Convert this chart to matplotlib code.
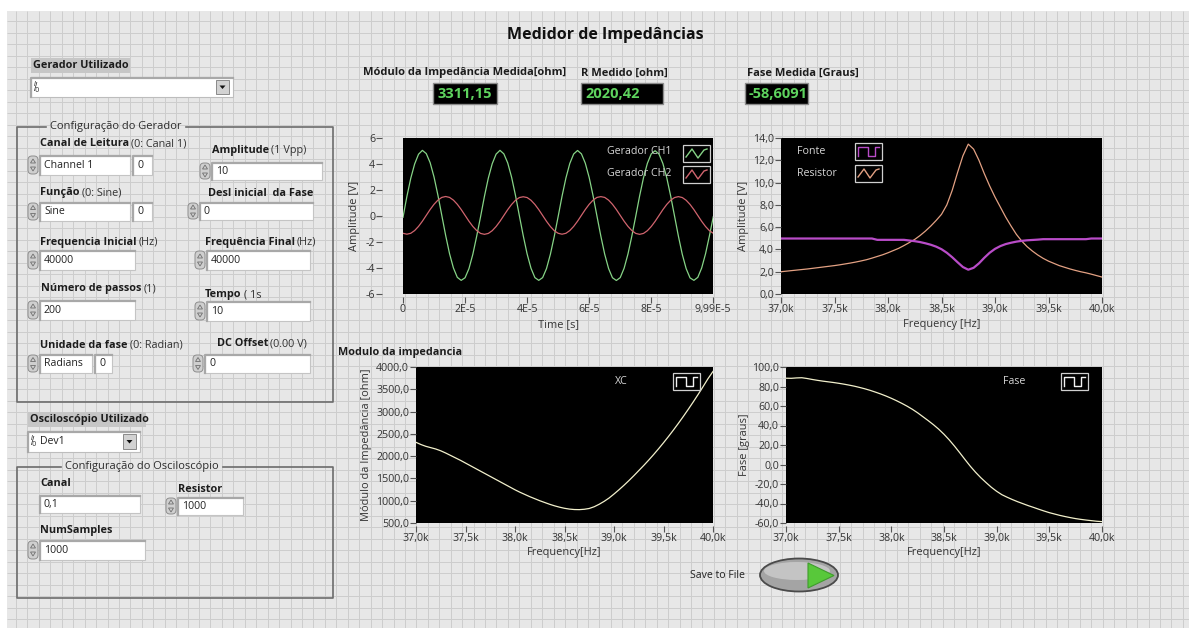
import numpy as np
import matplotlib.pyplot as plt
from matplotlib.patches import Rectangle, FancyBboxPatch, Ellipse, Polygon
from matplotlib.ticker import FuncFormatter

plt.rcParams['font.family'] = ['Open Sans', 'DejaVu Sans']

W, H = 1189, 628

# osciloscopio: 20 amostras por periodo de 40 kHz
dt = 1.25e-6
ch1 = [-0.10, 1.50, 2.90, 4.00, 4.75, 5.05, 4.80, 4.10, 3.00, 1.60,
       0.05, -1.50, -2.90, -4.00, -4.72, -4.95, -4.75, -4.05, -2.95, -1.55,
       -0.05, 1.52, 2.92, 4.02, 4.76, 5.05, 4.78, 4.08, 2.98, 1.58,
       0.02, -1.52, -2.92, -4.02, -4.74, -4.95, -4.74, -4.04, -2.94, -1.56,
       -0.04, 1.52, 2.92, 4.04, 4.77, 5.04, 4.78, 4.06, 2.96, 1.56,
       0.00, -1.54, -2.94, -4.04, -4.75, -4.96, -4.74, -4.02, -2.92, -1.54,
       -0.02, 1.54, 2.94, 4.05, 4.78, 5.02, 4.76, 4.04, 2.94, 1.55,
       0.00, -1.55, -2.95, -4.05, -4.76, -4.95, -4.72, -4.00, -2.90, -1.52,
       -0.05]
ch2 = [-1.33, -1.40, -1.33, -1.12, -0.80, -0.40, 0.05, 0.50, 0.90, 1.22,
       1.43, 1.50, 1.43, 1.22, 0.90, 0.50, 0.05, -0.40, -0.80, -1.12,
       -1.34, -1.41, -1.34, -1.13, -0.81, -0.41, 0.04, 0.49, 0.89, 1.21,
       1.42, 1.48, 1.42, 1.21, 0.89, 0.49, 0.04, -0.41, -0.81, -1.13,
       -1.33, -1.40, -1.33, -1.12, -0.80, -0.40, 0.05, 0.50, 0.90, 1.22,
       1.43, 1.49, 1.43, 1.22, 0.90, 0.50, 0.05, -0.40, -0.80, -1.12,
       -1.34, -1.41, -1.34, -1.13, -0.81, -0.41, 0.04, 0.49, 0.89, 1.21,
       1.42, 1.49, 1.42, 1.21, 0.89, 0.49, 0.04, -0.41, -0.81, -1.13,
       -1.33]

# varredura 37 kHz .. 40 kHz, passo 50 Hz
f_ini, f_fim, f_passo = 37000, 40000, 50
fonte = [4.98] * 18 + [4.86] * 6 + [
    4.80, 4.74, 4.66, 4.55, 4.42, 4.25, 4.02, 3.70, 3.30, 2.85,
    2.42, 2.18, 2.35, 2.75, 3.25, 3.70, 4.05, 4.30, 4.48, 4.60,
    4.70, 4.77, 4.82, 4.85, 4.88] + [4.92] * 9 + [4.98] * 3
resistor = [2.00, 2.05, 2.10, 2.15, 2.20, 2.25, 2.31, 2.37, 2.43, 2.49,
            2.55, 2.62, 2.70, 2.78, 2.87, 2.97, 3.08, 3.22, 3.37, 3.52,
            3.70, 3.90, 4.10, 4.35, 4.62, 4.90, 5.25, 5.65, 6.10, 6.60,
            7.15, 8.00, 9.30, 10.90, 12.40, 13.45, 13.00, 12.00, 10.80, 9.70,
            8.70, 7.80, 6.90, 6.10, 5.35, 4.75, 4.25, 3.85, 3.50, 3.20,
            2.95, 2.75, 2.55, 2.40, 2.25, 2.12, 2.00, 1.90, 1.78, 1.65,
            1.52]
zmod = [2310, 2260, 2220, 2190, 2160, 2120, 2070, 2015, 1960, 1905,
        1845, 1785, 1725, 1665, 1605, 1545, 1485, 1425, 1365, 1305,
        1245, 1190, 1140, 1090, 1045, 1000, 960, 920, 885, 855,
        830, 812, 802, 800, 808, 826, 865, 920, 985, 1060,
        1150, 1245, 1345, 1450, 1560, 1675, 1790, 1910, 2035, 2165,
        2300, 2440, 2585, 2735, 2890, 3050, 3215, 3385, 3560, 3740,
        3900]
fase = [88.5, 88.4, 88.8, 89.0, 88.2, 87.2, 86.3, 85.5, 84.8, 84.1,
        83.3, 82.4, 81.4, 80.3, 79.0, 77.6, 76.0, 74.2, 72.3, 70.2,
        67.9, 65.4, 62.7, 59.8, 56.6, 53.0, 49.0, 45.0, 40.8, 36.2,
        31.0, 25.2, 18.8, 12.0, 5.0, -1.8, -8.0, -13.6, -18.6, -23.4,
        -27.5, -31.0, -33.6, -36.0, -38.2, -40.2, -42.2, -44.0, -45.9, -47.7,
        -49.4, -50.8, -52.2, -53.4, -54.5, -55.5, -56.3, -57.0, -57.6, -58.2,
        -58.6]

modulo_txt = '3311,15'
r_txt = '2020,42'
fase_txt = '-58,6091'

t = np.arange(len(ch1)) * dt
freq = np.arange(f_ini, f_fim + 1, f_passo)

fig = plt.figure(figsize=(W / 100, H / 100), dpi=100)
fig.patch.set_facecolor('white')
PANEL = '#e7e7e7'

bg = fig.add_axes([0, 0, 1, 1], zorder=0)
bg.set_xlim(0, W)
bg.set_ylim(H, 0)
bg.axis('off')
bg.add_patch(Rectangle((7, 11), W - 7, H - 11, facecolor=PANEL, edgecolor='none'))
bg.vlines(np.arange(16, W, 11.44), 11, H, color='#cdcdcd', lw=0.7)
bg.hlines(np.arange(21, H, 11.5), 7, W, color='#cdcdcd', lw=0.7)

ov = fig.add_axes([0, 0, 1, 1], zorder=5)
ov.set_xlim(0, W)
ov.set_ylim(H, 0)
ov.axis('off')
rend = fig.canvas.get_renderer()

TICK = 7.7
AXLAB = 7.9


def comma(fmt):
    return FuncFormatter(lambda v, _: fmt.format(v).replace('.', ','))


def scope(x0, y0, x1, y1, xlab, ylab, lab_x, lab_y, gap=0):
    ax = fig.add_axes([x0 / W, 1 - y1 / H, (x1 - x0) / W, (y1 - y0) / H], zorder=2)
    ax.set_facecolor('black')
    for s in ax.spines.values():
        s.set_visible(False)
    ax.spines['left'].set_position(('outward', gap))
    ax.spines['bottom'].set_position(('outward', 2))
    ax.tick_params(direction='out', length=4, width=0.8, color='#555555',
                   labelsize=TICK, labelcolor='#333333', pad=1)
    ax.set_xlabel(xlab, fontsize=AXLAB, color='#333333')
    ax.set_ylabel(ylab, fontsize=AXLAB, color='#333333')
    ax.xaxis.label.set_va('center')
    ax.yaxis.label.set_va('center')
    ax.yaxis.set_label_coords((lab_x - x0) / (x1 - x0), 0.5)
    ax.xaxis.set_label_coords(0.5, -(lab_y - y1) / (y1 - y0))
    return ax


# sinais do gerador
ax1 = scope(403, 138, 713, 294, 'Time [s]', 'Amplitude [V]', 355, 325, gap=15)
ax1.plot(t, ch1, color='#86d386', lw=0.9)
ax1.plot(t, ch2, color='#d0646e', lw=0.9)
ax1.set_xlim(0, 9.99e-5)
ax1.set_ylim(-6, 6)
ax1.set_xticks([0, 2e-5, 4e-5, 6e-5, 8e-5, 9.99e-5],
               ['0', '2E-5', '4E-5', '6E-5', '8E-5', '9,99E-5'])
ax1.set_yticks(range(-6, 7, 2))
ax1.yaxis.set_major_formatter(comma('{:.0f}'))

# fonte x resistor
ax2 = scope(781, 138, 1102, 294, 'Frequency [Hz]', 'Amplitude [V]', 744, 325)
ax2.plot(freq, resistor, color='#e3a183', lw=0.9)
ax2.plot(freq, fonte, color='#b94cc8', lw=1.6)
ax2.set_xlim(f_ini, f_fim)
ax2.set_ylim(0, 14)
ax2.set_yticks(range(0, 15, 2))
ax2.yaxis.set_major_formatter(comma('{:.1f}'))

# modulo da impedancia
ax3 = scope(416, 367, 713, 523, 'Frequency[Hz]', 'Módulo da Impedância [ohm]', 366, 553)
ax3.plot(freq, zmod, color='#f2f0cc', lw=0.9)
ax3.set_xlim(f_ini, f_fim)
ax3.set_ylim(500, 4000)
ax3.set_yticks(range(500, 4001, 500))
ax3.yaxis.set_major_formatter(comma('{:.1f}'))

# fase
ax4 = scope(786, 367, 1102, 523, 'Frequency[Hz]', 'Fase [graus]', 745, 553)
ax4.plot(freq, fase, color='#f2f0cc', lw=0.9)
ax4.set_xlim(f_ini, f_fim)
ax4.set_ylim(-60, 100)
ax4.set_yticks(range(-60, 101, 20))
ax4.yaxis.set_major_formatter(comma('{:.1f}'))

for ax in (ax2, ax3, ax4):
    ax.set_xticks(range(f_ini, f_fim + 1, 500))
    ax.xaxis.set_major_formatter(FuncFormatter(
        lambda v, _: '{:.1f}k'.format(v / 1000).replace('.', ',')))


def legend_item(tx, ty, txt, bx, by, kind, color):
    ov.text(tx, ty, txt, fontsize=7.7, color='#d6d6d6', va='center', ha='left')
    x0, y0, x1, y1 = bx, by, bx + 27, by + 17
    ov.add_patch(Rectangle((x0, y0), x1 - x0, y1 - y0, facecolor='black',
                           edgecolor='#d0d0d0', lw=0.9))
    if kind == 'square':
        xm = (x0 + x1) / 2
        xs = [x0 + 3, x0 + 3, xm - 1, xm - 1, xm + 6, xm + 6, x1 - 3]
        ys = [y1 - 4, y0 + 4, y0 + 4, y1 - 4, y1 - 4, y0 + 4, y0 + 4]
    else:
        xs = [x0 + 3, x0 + 9, x0 + 15, x0 + 21, x1 - 3]
        ys = [y1 - 5, y0 + 4, y1 - 4, y0 + 5, y0 + 4]
    ov.plot(xs, ys, color=color, lw=1.0)


legend_item(607, 152, 'Gerador CH1', 683, 145, 'sine', '#86d386')
legend_item(607, 174, 'Gerador CH2', 683, 166, 'sine', '#d0646e')
legend_item(797, 151, 'Fonte', 855, 143, 'square', '#b94cc8')
legend_item(797, 173, 'Resistor', 855, 165, 'sine', '#e3a183')
legend_item(615, 382, 'XC', 673, 373, 'square', '#f2f2f2')
legend_item(1003, 382, 'Fase', 1061, 373, 'square', '#f2f2f2')


def label(x, y, bold, normal='', size=7.8):
    tb = ov.text(x, y, bold, fontsize=size, fontweight='bold', va='center',
                 ha='left', color='#1c1c1c')
    if normal:
        bb = tb.get_window_extent(renderer=rend)
        ov.text(bb.x1 + 2, y, normal, fontsize=size, va='center', ha='left',
                color='#333333')


def field(x0, y0, x1, y1, txt=''):
    ov.add_patch(Rectangle((x0, y0), x1 - x0, y1 - y0, facecolor='white',
                           edgecolor='#c4c4c4', lw=0.8))
    ov.plot([x0, x0, x1], [y1, y0 + 1, y0 + 1], color='#a8a8a8', lw=1.6)
    if txt:
        ov.text(x0 + 4, (y0 + y1) / 2 + 0.5, txt, fontsize=7.6, va='center',
                ha='left', color='#222222')


def spinner(x1, y0, y1):
    x0 = x1 - 11
    ov.add_patch(FancyBboxPatch((x0, y0 + 1), 10, y1 - y0 - 2,
                                boxstyle='round,pad=0,rounding_size=4',
                                facecolor='#cfcfcf', edgecolor='#8e8e8e', lw=0.7))
    xc, yc = x0 + 5, (y0 + y1) / 2
    ov.add_patch(Polygon([(xc - 2.5, yc - 2), (xc + 2.5, yc - 2), (xc, yc - 6)],
                         facecolor='none', edgecolor='#6e6e6e', lw=0.6))
    ov.add_patch(Polygon([(xc - 2.5, yc + 2), (xc + 2.5, yc + 2), (xc, yc + 6)],
                         facecolor='none', edgecolor='#6e6e6e', lw=0.6))


def num_field(x0, y0, x1, y1, txt):
    spinner(x0 - 1, y0, y1)
    field(x0, y0, x1, y1, txt)


def ring(x0, y0, x1, y1, txt=''):
    ov.add_patch(Rectangle((x0, y0), x1 - x0, y1 - y0, facecolor='white',
                           edgecolor='#bdbdbd', lw=0.8))
    ov.plot([x0, x0, x1], [y1, y0 + 1, y0 + 1], color='#a8a8a8', lw=1.6)
    ov.text(x0 + 2, (y0 + y1) / 2, r'$^{I}\!\!/\!_{0}$', fontsize=7,
            ha='left', va='center', color='#333333')
    if txt:
        ov.text(x0 + 12, (y0 + y1) / 2, txt, fontsize=7.6, va='center',
                ha='left', color='#222222')
    bx = x1 - 17
    ov.add_patch(Rectangle((bx, y0 + 3), 13, y1 - y0 - 6, facecolor='#d2d2d2',
                           edgecolor='#8a8a8a', lw=0.7))
    yc = (y0 + y1) / 2
    ov.add_patch(Polygon([(bx + 3.5, yc - 1.5), (bx + 9.5, yc - 1.5), (bx + 6.5, yc + 2)],
                         facecolor='#111111', edgecolor='none'))


def group(x0, y0, x1, y1, title, tx):
    tt = ov.text(tx, y0, title, fontsize=8, va='center', ha='left',
                 color='#2c2c2c')
    bb = tt.get_window_extent(renderer=rend)
    kw = dict(color='#6c6c6c', lw=1.2)
    ov.plot([tx - 4, x0, x0, x1, x1, bb.x1 + 4], [y0, y0, y1, y1, y0, y0], **kw)


def tag(x0, y0, x1, y1, txt):
    ov.add_patch(Rectangle((x0, y0), x1 - x0, y1 - y0, facecolor='#c6c6c6',
                           edgecolor='none'))
    ov.text(x0 + 2, (y0 + y1) / 2, txt, fontsize=7.8, fontweight='bold',
            va='center', ha='left', color='#1c1c1c')


def indicator(x0, y0, x1, y1, txt):
    ov.add_patch(Rectangle((x0, y0), x1 - x0, y1 - y0, facecolor='black',
                           edgecolor='#8c8c8c', lw=1.0))
    ov.text(x0 + 4, (y0 + y1) / 2 + 0.5, txt, fontsize=10.5, fontweight='bold',
            va='center', ha='left', color='#5ed35e')


# cabecalho
ov.text(605, 35, 'Medidor de Impedâncias', fontsize=11.5, fontweight='bold',
        ha='center', va='center', color='#111111')
label(363, 73, 'Módulo da Impedância Medida[ohm]', size=8)
label(581, 73, 'R Medido [ohm]', size=8)
label(747, 73, 'Fase Medida [Graus]', size=8)
indicator(433, 83, 497, 104, modulo_txt)
indicator(581, 83, 663, 104, r_txt)
indicator(745, 83, 808, 104, fase_txt)

# gerador
tag(31, 58, 130, 73, 'Gerador Utilizado')
ring(31, 77, 233, 97)
group(17, 127, 333, 402, 'Configuração do Gerador', 50)

label(40, 144, 'Canal de Leitura', '(0: Canal 1)')
num_field(40, 155, 130, 175, 'Channel 1')
field(133, 155, 152, 175, '0')
label(212, 150, 'Amplitude', '(1 Vpp)')
num_field(212, 162, 322, 180, '10')

label(40, 193, 'Função', '(0: Sine)')
num_field(40, 202, 130, 221, 'Sine')
field(133, 202, 152, 221, '0')
label(208, 193, 'Desl inicial  da Fase')
num_field(200, 202, 313, 220, '0')

label(40, 242, 'Frequencia Inicial', '(Hz)')
num_field(40, 250, 135, 270, '40000')
label(205, 242, 'Frequência Final', '(Hz)')
num_field(207, 250, 310, 270, '40000')

label(41, 289, 'Número de passos', '(1)')
num_field(40, 300, 135, 320, '200')
label(205, 295, 'Tempo', '( 1s')
num_field(207, 301, 310, 321, '10')

label(40, 345, 'Unidade da fase', '(0: Radian)')
num_field(40, 354, 92, 373, 'Radians')
field(95, 354, 112, 373, '0')
label(217, 344, 'DC Offset', '(0.00 V)')
num_field(205, 354, 310, 373, '0')

# osciloscopio
tag(28, 412, 146, 427, 'Osciloscópio Utilizado')
ring(28, 431, 140, 452, 'Dev1')
group(17, 467, 333, 598, 'Configuração do Osciloscópio', 65)
label(40, 483, 'Canal')
field(40, 495, 140, 513, '0,1')
label(178, 489, 'Resistor')
num_field(178, 497, 243, 515, '1000')
label(40, 530, 'NumSamples')
num_field(40, 540, 145, 560, '1000')

label(338, 352, 'Modulo da impedancia', size=7.8)

# botao de salvar
ov.text(690, 575, 'Save to File', fontsize=7.6, va='center', ha='left',
        color='#222222')
ov.add_patch(Ellipse((799, 575), 78, 33, facecolor='#a4a4a4',
                     edgecolor='#4a4a4a', lw=1.3))
ov.add_patch(Ellipse((797, 571), 66, 18, facecolor='#c4c4c4', edgecolor='none'))
ov.add_patch(Polygon([(808, 563), (808, 588), (834, 575.5)], closed=True,
                     facecolor='#58c83a', edgecolor='#3f9c2c', lw=0.8))

fig.savefig('out.png', dpi=100)
